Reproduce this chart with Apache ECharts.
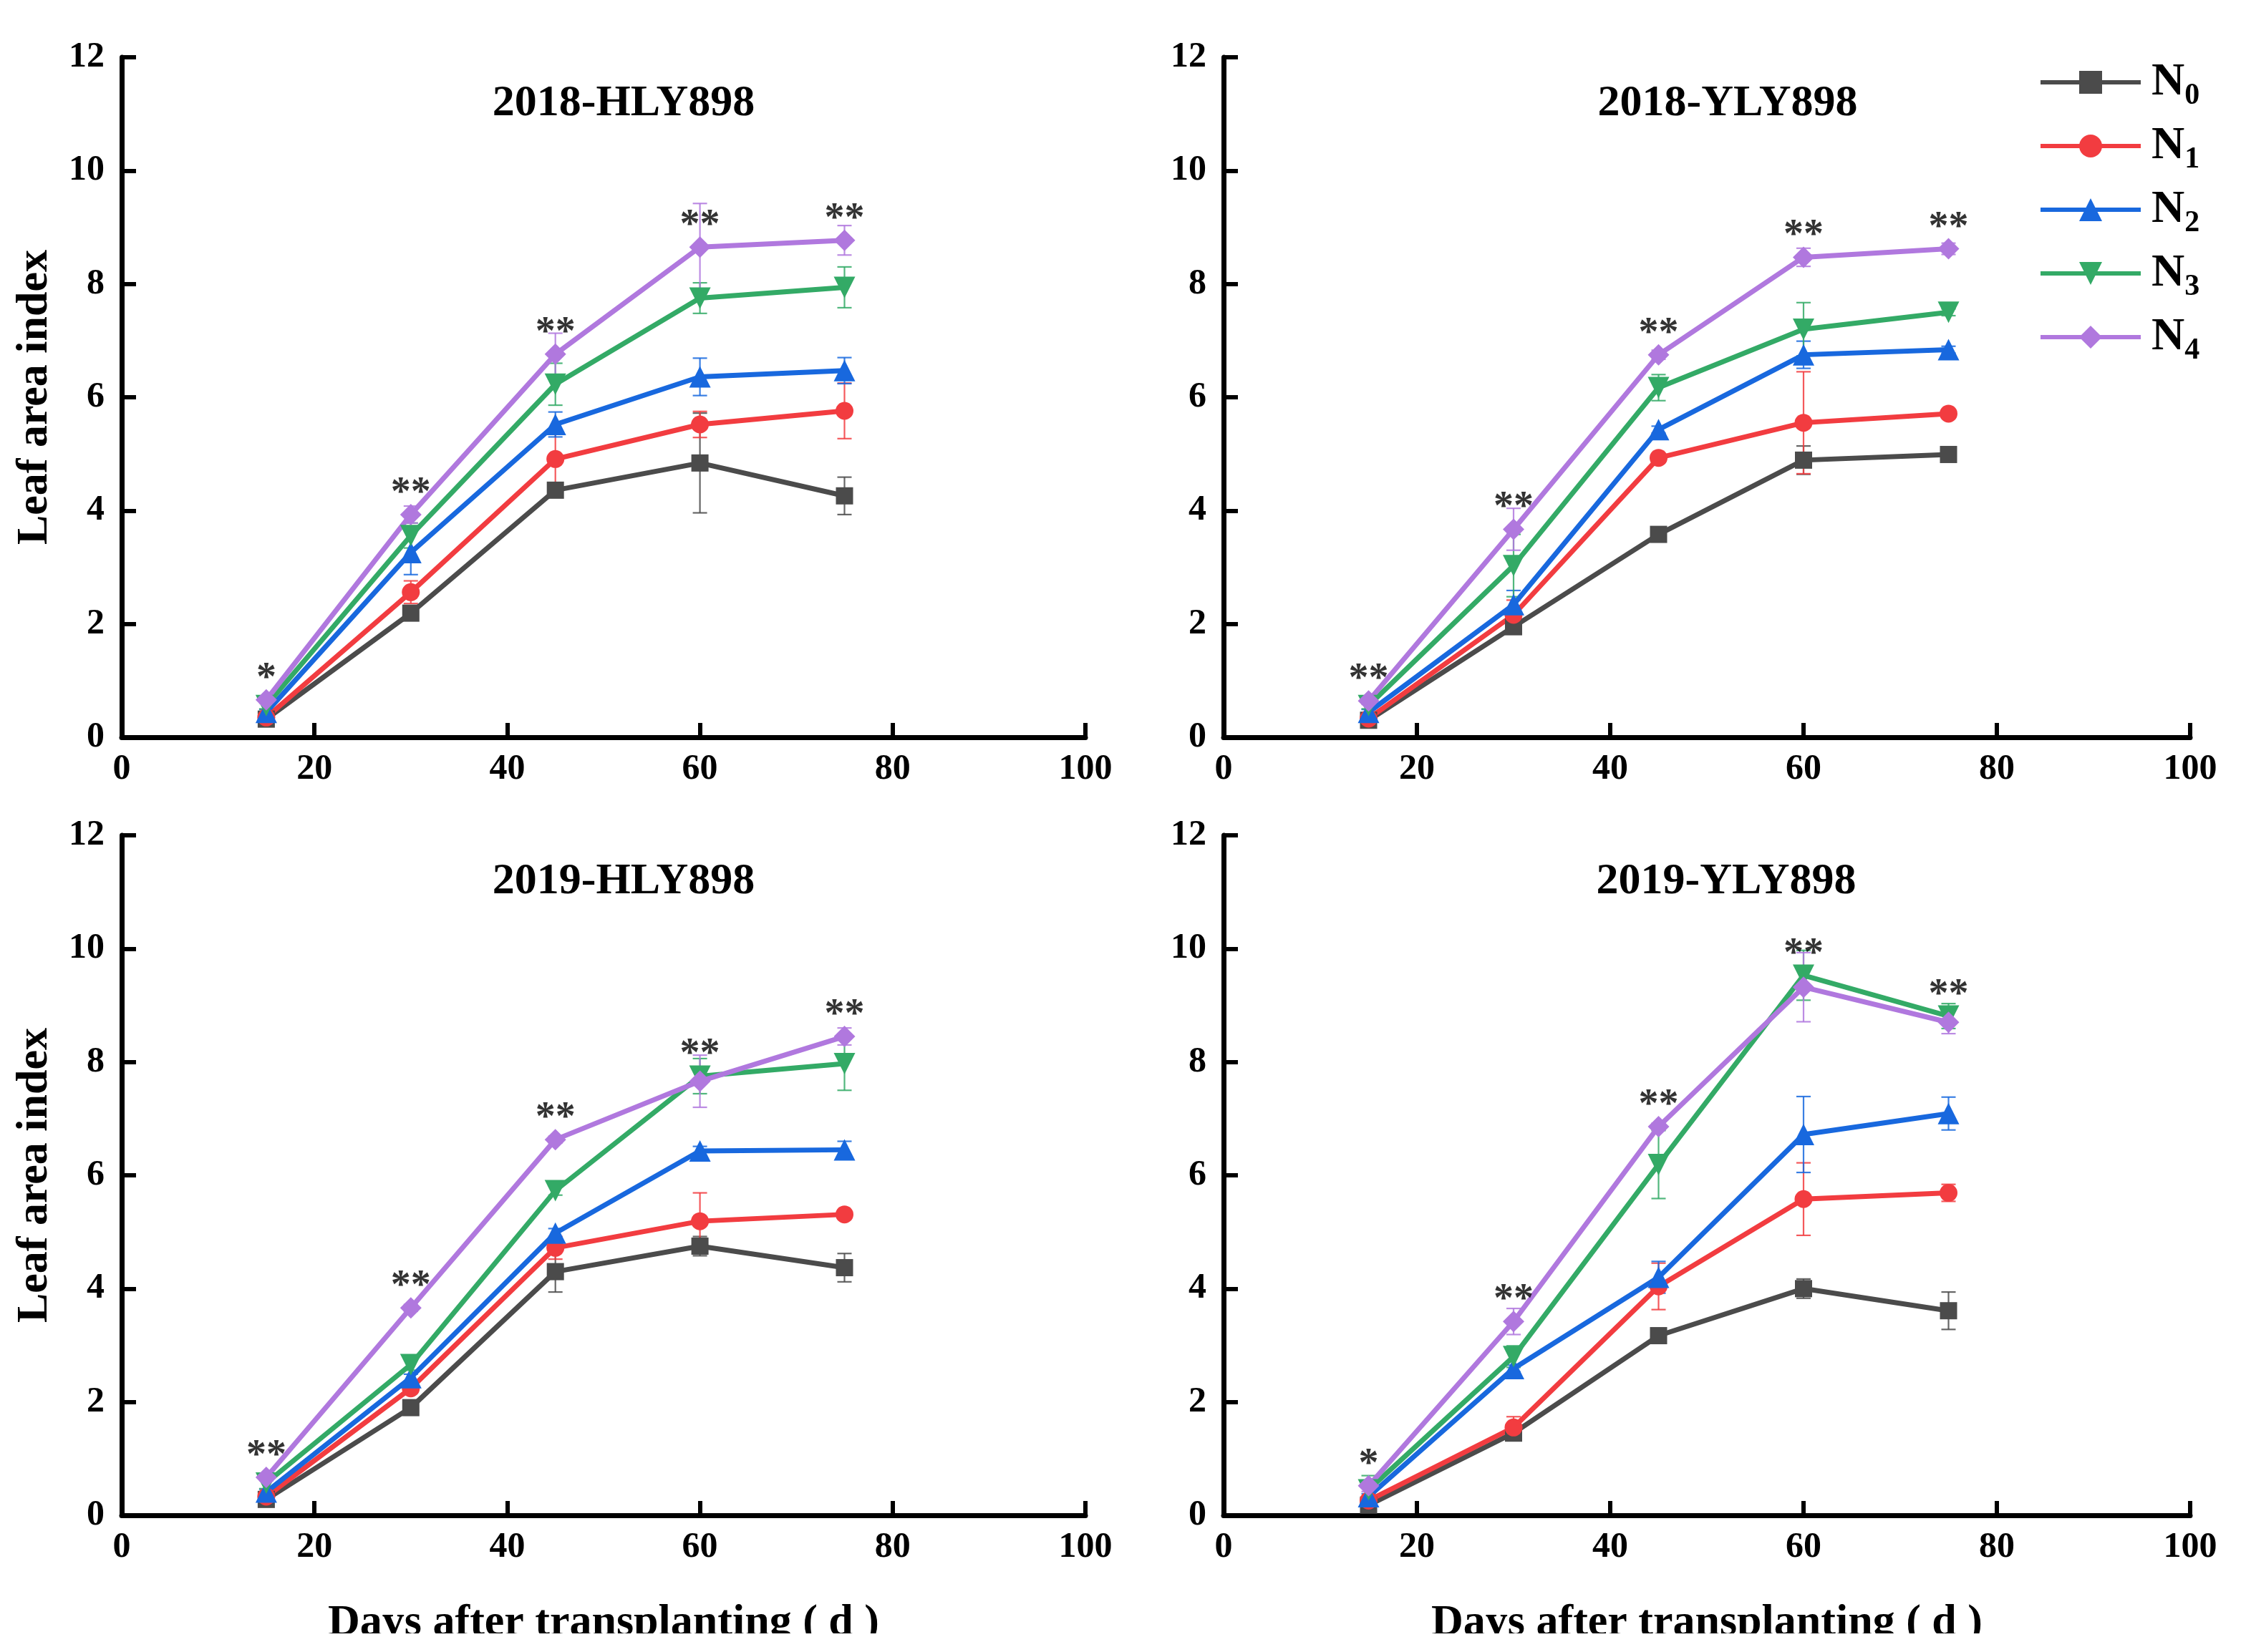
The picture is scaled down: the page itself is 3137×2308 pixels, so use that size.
<!DOCTYPE html>
<html>
<head>
<meta charset="utf-8">
<script src="https://cdn.jsdelivr.net/npm/echarts@6/dist/echarts.min.js"></script>
<style>html,body{margin:0;padding:0;background:#fff}#c{width:3137px;height:2308px}</style>
</head>
<body>
<div id="c"></div>
<script>
// ---- data ----
const days = [15, 30, 45, 60, 75];
const seriesNames = ['N0', 'N1', 'N2', 'N3', 'N4'];
const panelTitles = ['2018-HLY898', '2018-YLY898', '2019-HLY898', '2019-YLY898'];
const xTicks = [0, 20, 40, 60, 80, 100];
const yTicks = [0, 2, 4, 6, 8, 10, 12];

// mean LAI per treatment (rows N0..N4) at each sampling day
const lai2018HLY = [
  [0.32, 2.19, 4.36, 4.84, 4.26],
  [0.35, 2.56, 4.91, 5.52, 5.76],
  [0.44, 3.26, 5.52, 6.36, 6.47],
  [0.56, 3.56, 6.23, 7.75, 7.94],
  [0.66, 3.93, 6.76, 8.65, 8.77]
];
const err2018HLY = [
  [0.04, 0.06, 0.08, 0.88, 0.33],
  [0.04, 0.20, 0.48, 0.23, 0.49],
  [0.05, 0.39, 0.22, 0.33, 0.23],
  [0.06, 0.22, 0.37, 0.27, 0.36],
  [0.06, 0.15, 0.37, 0.77, 0.26]
];
const lai2018YLY = [
  [0.30, 1.95, 3.58, 4.89, 4.99],
  [0.33, 2.16, 4.93, 5.55, 5.71],
  [0.44, 2.34, 5.43, 6.75, 6.84],
  [0.56, 3.03, 6.17, 7.20, 7.50],
  [0.64, 3.67, 6.75, 8.47, 8.62]
];
const err2018YLY = [
  [0.04, 0.06, 0.06, 0.25, 0.05],
  [0.04, 0.26, 0.06, 0.90, 0.06],
  [0.05, 0.25, 0.06, 0.24, 0.06],
  [0.06, 0.55, 0.23, 0.47, 0.06],
  [0.06, 0.37, 0.08, 0.16, 0.10]
];
const lai2019HLY = [
  [0.28, 1.90, 4.30, 4.75, 4.37],
  [0.33, 2.24, 4.72, 5.19, 5.31],
  [0.41, 2.43, 4.98, 6.43, 6.45],
  [0.57, 2.66, 5.73, 7.75, 7.97],
  [0.67, 3.66, 6.63, 7.66, 8.45]
];
const err2019HLY = [
  [0.04, 0.06, 0.36, 0.17, 0.25],
  [0.04, 0.08, 0.20, 0.50, 0.06],
  [0.05, 0.06, 0.08, 0.08, 0.15],
  [0.10, 0.10, 0.08, 0.31, 0.47],
  [0.06, 0.06, 0.06, 0.46, 0.15]
];
const lai2019YLY = [
  [0.18, 1.45, 3.17, 4.00, 3.61],
  [0.26, 1.55, 4.04, 5.58, 5.69],
  [0.33, 2.59, 4.20, 6.72, 7.09],
  [0.45, 2.80, 6.19, 9.53, 8.81],
  [0.52, 3.42, 6.86, 9.32, 8.70]
];
const err2019YLY = [
  [0.03, 0.05, 0.06, 0.17, 0.33],
  [0.04, 0.19, 0.41, 0.64, 0.15],
  [0.05, 0.06, 0.28, 0.67, 0.29],
  [0.25, 0.19, 0.60, 0.44, 0.22],
  [0.10, 0.23, 0.06, 0.61, 0.20]
];
const stars2018HLY = ['*', '**', '**', '**', '**'];
const stars2018YLY = ['**', '**', '**', '**', '**'];
const stars2019HLY = ['**', '**', '**', '**', '**'];
const stars2019YLY = ['*', '**', '**', '**', '**'];

// ---- styling ----
const colors = ['#4b4b4b', '#f23c40', '#1868de', '#33aa66', '#b078de'];
const symbols = ['rect', 'circle', 'triangle', 'triangle', 'diamond'];
const symbolRot = [0, 0, 0, 180, 0];
const symbolSizes = [24, 25, 30, 30, 30];
const FONT = '"Liberation Serif", "Times New Roman", serif';

const panelData = [
  { lai: lai2018HLY, err: err2018HLY, stars: stars2018HLY },
  { lai: lai2018YLY, err: err2018YLY, stars: stars2018YLY },
  { lai: lai2019HLY, err: err2019HLY, stars: stars2019HLY },
  { lai: lai2019YLY, err: err2019YLY, stars: stars2019YLY }
];

const grids = [
  { left: 170, top: 80, width: 1346, height: 950 },
  { left: 1709, top: 80, width: 1350, height: 950 },
  { left: 170, top: 1167, width: 1346, height: 950 },
  { left: 1709, top: 1167, width: 1350, height: 950 }
];

const axisLine = { show: true, onZero: false, lineStyle: { color: '#000', width: 7 } };
const axisTick = { show: true, inside: true, length: 20, lineStyle: { color: '#000', width: 6 } };
const labelStyle = { color: '#000', fontFamily: FONT, fontWeight: 'bold', fontSize: 50 };

const xAxes = grids.map((g, i) => ({
  type: 'value', gridIndex: i, min: xTicks[0], max: xTicks[xTicks.length - 1], interval: 20,
  axisLine, axisTick, splitLine: { show: false },
  axisLabel: Object.assign({ margin: 20 }, labelStyle),
  name: i >= 2 ? 'Days after transplanting ( d )' : '',
  nameLocation: 'middle', nameGap: 120,
  nameTextStyle: { color: '#000', fontFamily: FONT, fontWeight: 'bold', fontSize: 62 }
}));
const yAxes = grids.map((g, i) => ({
  type: 'value', gridIndex: i, min: yTicks[0], max: yTicks[yTicks.length - 1], interval: 2,
  axisLine, axisTick, splitLine: { show: false },
  axisLabel: Object.assign({ margin: 24 }, labelStyle),
  name: i % 2 === 0 ? 'Leaf area index' : '',
  nameLocation: 'middle', nameGap: 90,
  nameTextStyle: { color: '#000', fontFamily: FONT, fontWeight: 'bold', fontSize: 62 }
}));

const series = [];
panelData.forEach((p, pi) => {
  // error bars
  p.lai.forEach((vals, si) => {
    series.push({
      type: 'custom', name: seriesNames[si] + ' err', xAxisIndex: pi, yAxisIndex: pi,
      z: 1, silent: true,
      data: days.map((d, k) => [d, vals[k] - p.err[si][k], vals[k] + p.err[si][k]]),
      encode: { x: 0, y: [1, 2] },
      renderItem: (params, api) => {
        const x = api.value(0);
        const lo = api.coord([x, api.value(1)]);
        const hi = api.coord([x, api.value(2)]);
        const w = 10;
        const st = { stroke: colors[si], lineWidth: 2.2, opacity: 0.85 };
        return {
          type: 'group', children: [
            { type: 'line', shape: { x1: lo[0], y1: lo[1], x2: hi[0], y2: hi[1] }, style: st },
            { type: 'line', shape: { x1: hi[0] - w, y1: hi[1], x2: hi[0] + w, y2: hi[1] }, style: st },
            { type: 'line', shape: { x1: lo[0] - w, y1: lo[1], x2: lo[0] + w, y2: lo[1] }, style: st }
          ]
        };
      }
    });
  });
  // lines
  p.lai.forEach((vals, si) => {
    series.push({
      type: 'line', name: seriesNames[si], xAxisIndex: pi, yAxisIndex: pi, z: 3,
      data: days.map((d, k) => [d, vals[k]]),
      symbol: symbols[si], symbolRotate: symbolRot[si], symbolSize: symbolSizes[si],
      showAllSymbol: true,
      lineStyle: { color: colors[si], width: 7 },
      itemStyle: { color: colors[si] },
      emphasis: { disabled: true },
      animation: false
    });
  });
  // significance marks
  series.push({
    type: 'scatter', name: 'sig' + pi, xAxisIndex: pi, yAxisIndex: pi, z: 5,
    symbolSize: 1, itemStyle: { color: 'rgba(0,0,0,0)' }, silent: true,
    data: days.map((d, k) => ({
      value: [d, Math.max(...p.lai.map(r => r[k]))],
      label: { formatter: p.stars[k] }
    })),
    label: {
      show: true, position: 'top', distance: 0,
      color: '#000', fontFamily: FONT, fontWeight: 'bold', fontSize: 56
    },
    animation: false
  });
});

const titlePos = [[871, 145], [2413, 145], [871, 1232], [2411, 1232]];
const graphics = panelTitles.map((t, i) => ({
  type: 'text', x: titlePos[i][0], y: titlePos[i][1], z: 10,
  style: {
    text: t, fill: '#000', fontFamily: FONT, fontWeight: 'bold', fontSize: 62,
    align: 'center', verticalAlign: 'middle', textAlign: 'center', textVerticalAlign: 'middle'
  }
}));
// the source figure is cropped just under the baseline of the bottom axis titles
graphics.push({
  type: 'rect', z: 100, silent: true,
  shape: { x: 0, y: 2282, width: 3137, height: 30 },
  style: { fill: '#fff' }
});

const option = {
  backgroundColor: '#fff',
  animation: false,
  grid: grids,
  xAxis: xAxes,
  yAxis: yAxes,
  legend: {
    data: seriesNames, orient: 'vertical', left: 2842, top: 78,
    itemWidth: 140, itemHeight: 40, itemGap: 17,
    lineStyle: { width: 6 },
    formatter: name => '{n|N}{s|' + name.slice(1) + '}',
    textStyle: {
      rich: {
        n: { fontFamily: FONT, fontWeight: 'bold', fontSize: 64, color: '#000', lineHeight: 80, padding: [0, 0, 8, 10], verticalAlign: 'bottom' },
        s: { fontFamily: FONT, fontWeight: 'bold', fontSize: 42, color: '#000', lineHeight: 40, verticalAlign: 'bottom' }
      }
    },
    selectedMode: false
  },
  graphic: graphics,
  series
};

const chart = echarts.init(document.getElementById('c'), null, { renderer: 'canvas' });
chart.setOption(option);
</script>
</body>
</html>
